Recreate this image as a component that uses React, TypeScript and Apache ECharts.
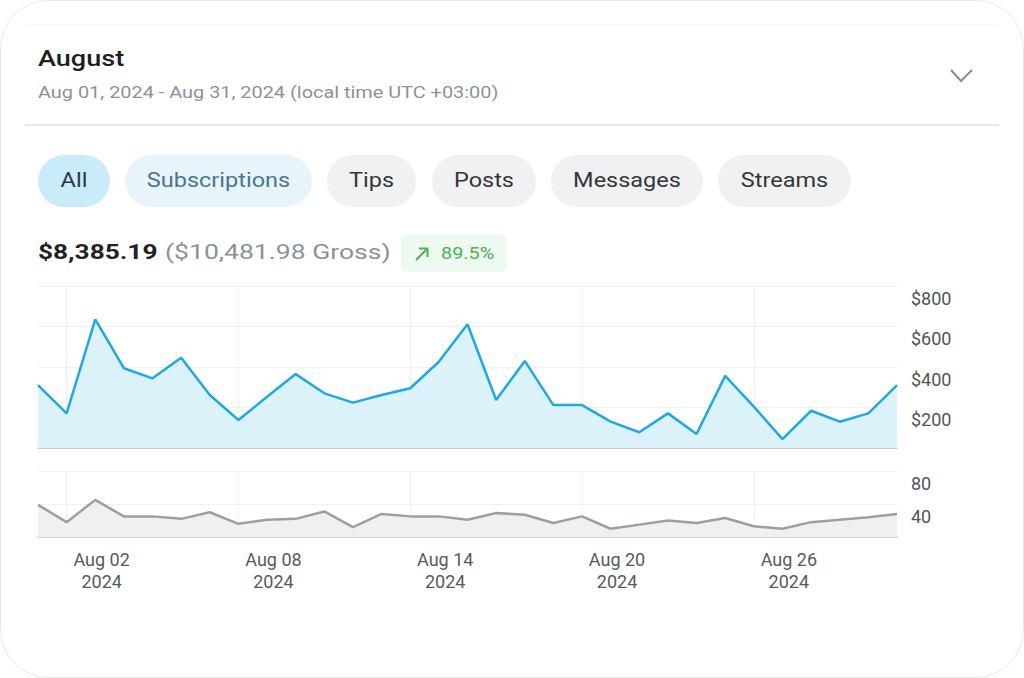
import React, { useEffect, useRef } from "react";
import * as echarts from "echarts";

const dates = [
  "2024-08-01", "2024-08-02", "2024-08-03", "2024-08-04", "2024-08-05", "2024-08-06", "2024-08-07",
  "2024-08-08", "2024-08-09", "2024-08-10", "2024-08-11", "2024-08-12", "2024-08-13", "2024-08-14",
  "2024-08-15", "2024-08-16", "2024-08-17", "2024-08-18", "2024-08-19", "2024-08-20", "2024-08-21",
  "2024-08-22", "2024-08-23", "2024-08-24", "2024-08-25", "2024-08-26", "2024-08-27", "2024-08-28",
  "2024-08-29", "2024-08-30", "2024-08-31",
];
const earnings = [
  311, 171, 635, 394, 344, 446, 262, 138, 253, 365, 270, 224, 262, 295, 426, 611,
  237, 430, 212, 212, 130, 78, 171, 69, 356, 204, 44, 184, 130, 171, 311,
];
const counts = [
  39, 18, 45, 25, 25, 22, 30, 16, 21, 22, 31, 12, 28, 25, 25, 21,
  29, 27, 17, 25, 10, 15, 20, 17, 23, 13, 10, 18, 21, 24, 28,
];
const moneyTicks = [0, 200, 400, 600, 800];
const countTicks = [0, 40, 80];
const tabs = ["All", "Subscriptions", "Tips", "Posts", "Messages", "Streams"];
const tabX = [38, 125, 327, 432, 551, 718];
const tabW = [72, 187, 89, 104, 152, 133];

const MONTHS = ["Jan", "Feb", "Mar", "Apr", "May", "Jun", "Jul", "Aug", "Sep", "Oct", "Nov", "Dec"];
const fmtDate = (d: string) => {
  const [y, m, day] = d.split("-");
  return `${MONTHS[Number(m) - 1]} ${day}\n${y}`;
};

const FONT = "Roboto";

export default function App() {
  const ref = useRef<HTMLDivElement>(null);
  useEffect(() => {
    if (!ref.current) return;
    const chart = echarts.init(ref.current, null, { renderer: "svg" });
    const tick = (i: number) => i % 6 === 1;
    const gridLine = { lineStyle: { color: "#eef0f2", width: 1 } };

    const txt = (text: string, x: number, y: number, size: number, color: string, weight: any, align: string, sx: number) => ({
      type: "text",
      x,
      y,
      scaleX: sx,
      style: { text, fontFamily: FONT, fontSize: size, fontWeight: weight, fill: color, align, verticalAlign: "middle" },
      z: 10,
    });

    const graphics: any[] = [
      { type: "rect", shape: { x: 0.5, y: 0.5, width: 1023, height: 677, r: 48 }, style: { fill: "#fff", stroke: "#e8e8e8", lineWidth: 1 }, z: 0 },
      { type: "line", shape: { x1: 25, y1: 25, x2: 999, y2: 25 }, style: { stroke: "#f3f3f3", lineWidth: 1 } },
      { type: "line", shape: { x1: 25, y1: 125, x2: 999, y2: 125 }, style: { stroke: "#dfe1e3", lineWidth: 1.5 } },
      txt("August", 38, 58, 22, "#1e1e1e", 500, "left", 1.23),
      txt("Aug 01, 2024 - Aug 31, 2024 (local time UTC +03:00)", 38, 92, 17, "#8a9299", "normal", "left", 1.17),
      { type: "polyline", shape: { points: [[951, 70], [961, 81], [972, 70]] }, style: { stroke: "#888c90", lineWidth: 2, fill: null } },
    ];
    tabs.forEach((t, i) => {
      const fill = i === 0 ? "#c9ebfa" : i === 1 ? "#e7f4fa" : "#f0f1f3";
      const color = i === 0 ? "#2a3a45" : i === 1 ? "#4a7590" : "#333638";
      graphics.push({ type: "rect", shape: { x: tabX[i], y: 155, width: tabW[i], height: 52, r: 26 }, style: { fill }, z: 5 });
      graphics.push({
        type: "text", x: tabX[i] + tabW[i] / 2, y: 180, scaleX: 1.175,
        style: { text: t, fontFamily: FONT, fontSize: 20, fill: color, align: "center", verticalAlign: "middle" }, z: 10,
      });
    });
    graphics.push(txt("$8,385.19", 38, 252, 21, "#222", "bold", "left", 1.25));
    graphics.push(txt("($10,481.98 Gross)", 165, 252, 21, "#8a9299", "normal", "left", 1.264));
    graphics.push({ type: "rect", shape: { x: 401, y: 234, width: 106, height: 38, r: 6 }, style: { fill: "#eefaf0" }, z: 5 });
    graphics.push({ type: "polyline", shape: { points: [[416, 260], [427, 249]] }, style: { stroke: "#4cb05a", lineWidth: 2, fill: null }, z: 10 });
    graphics.push({ type: "polyline", shape: { points: [[419, 248.5], [427.5, 248.5], [427.5, 257]] }, style: { stroke: "#4cb05a", lineWidth: 2, fill: null }, z: 10 });
    graphics.push(txt("89.5%", 441, 253, 16, "#4cb05a", "normal", "left", 1.24));

    const option: any = {
      animation: false,
      backgroundColor: "transparent",
      graphic: graphics,
      grid: [
        { left: 38, width: 859, top: 286, height: 162 },
        { left: 38, width: 859, top: 471, height: 66 },
      ],
      xAxis: [0, 1].map((g) => ({
        type: "category",
        gridIndex: g,
        data: dates,
        boundaryGap: false,
        axisLine: { show: true, lineStyle: { color: g === 0 ? "#b9c0c6" : "#d4d7da", width: g === 0 ? 1.5 : 2 } },
        axisTick: { show: false },
        splitLine: { show: true, interval: (i: number) => tick(i), lineStyle: { color: "#eef0f2" } },
        axisLabel: g === 0
          ? { show: false }
          : {
              show: true,
              interval: (i: number) => tick(i),
              formatter: (v: string) => fmtDate(v),
              fontFamily: FONT,
              fontSize: 18,
              lineHeight: 22,
              color: "#555a5e",
              align: "center",
              padding: [0, 0, 0, 70],
              margin: 11,
            },
      })),
      yAxis: [
        {
          type: "value", gridIndex: 0, position: "right",
          min: moneyTicks[0], max: moneyTicks[moneyTicks.length - 1], interval: 200,
          splitLine: gridLine,
          axisLine: { show: false }, axisTick: { show: false },
          axisLabel: {
            formatter: (v: number) => (v === 0 ? "" : "$" + v),
            fontFamily: FONT, fontSize: 18, color: "#50555a", margin: 14, verticalAlign: "top",
            padding: [3, 0, 0, 0],
          },
        },
        {
          type: "value", gridIndex: 1, position: "right",
          min: countTicks[0], max: countTicks[countTicks.length - 1], interval: 40,
          splitLine: gridLine,
          axisLine: { show: false }, axisTick: { show: false },
          axisLabel: {
            formatter: (v: number) => (v === 0 ? "" : String(v)),
            fontFamily: FONT, fontSize: 18, color: "#50555a", margin: 14, verticalAlign: "top",
            padding: [3, 0, 0, 0],
          },
        },
      ],
      series: [
        {
          type: "line", xAxisIndex: 0, yAxisIndex: 0, data: earnings, showSymbol: false,
          lineStyle: { color: "#1fa8e1", width: 2.5 }, itemStyle: { color: "#1fa8e1" },
          areaStyle: { color: "#dcf2fb", opacity: 1 },
        },
        {
          type: "line", xAxisIndex: 1, yAxisIndex: 1, data: counts, showSymbol: false,
          lineStyle: { color: "#9c9fa2", width: 2.5 }, itemStyle: { color: "#9c9fa2" },
          areaStyle: { color: "#eff0f2", opacity: 1 },
        },
      ],
    };
    chart.setOption(option);
    return () => chart.dispose();
  }, []);
  return <div ref={ref} style={{ position: "absolute", left: 0, top: 0, width: 1024, height: 678 }} />;
}
